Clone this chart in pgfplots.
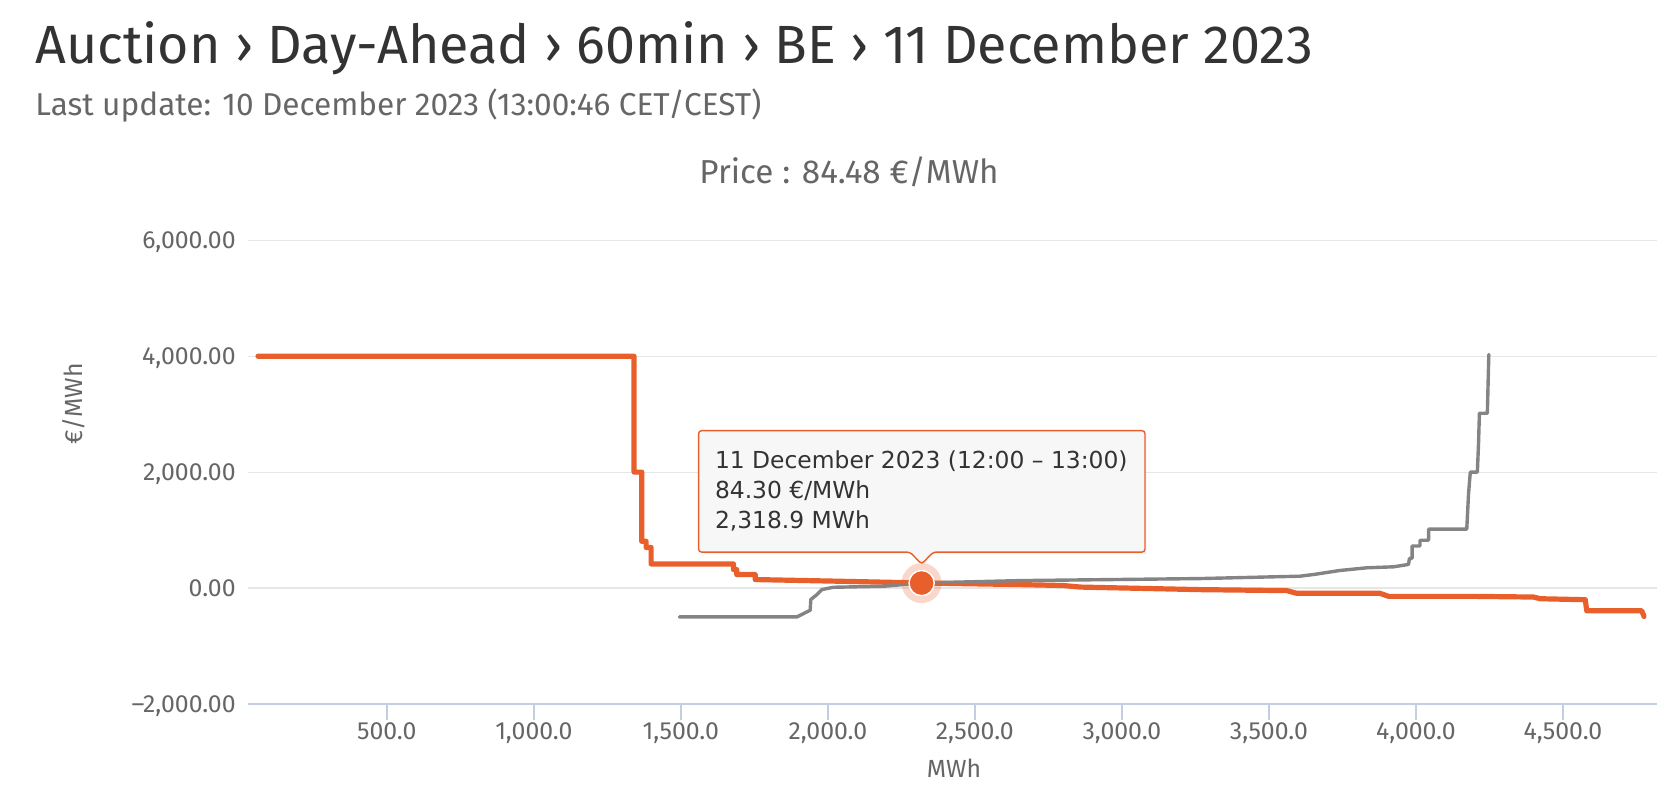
\documentclass[border=0pt]{standalone}
\usepackage{pgfplots}
\pgfplotsset{compat=1.18}
\usepackage{fontspec}
\setmainfont{Fira Sans}
\newfontfamily\tipfont{DejaVu Sans}
\usetikzlibrary{shadows}

\definecolor{demand}{HTML}{E95F2B}
\definecolor{supply}{HTML}{848484}
\definecolor{gridc}{HTML}{E6E6E6}
\definecolor{axisc}{HTML}{C4CEE3}
\definecolor{titlec}{HTML}{333333}
\definecolor{labelc}{HTML}{666666}
\definecolor{tipfill}{HTML}{F7F7F7}

\begin{document}
\begin{tikzpicture}
\path[use as bounding box] (0,0) rectangle (835pt,-403pt);

\node[anchor=base west, inner sep=0pt, text=titlec, font=\fontsize{26.9}{30}\selectfont]
  at (17.5pt,-32pt) {Auction › Day-Ahead › 60min › BE › 11 December 2023};
\node[anchor=base west, inner sep=0pt, text=labelc, font=\fontsize{15.8}{18}\selectfont]
  at (17.5pt,-58pt) {Last update: 10 December 2023 (13:00:46 CET/CEST)};
\node[anchor=base, inner sep=0pt, text=labelc, font=\fontsize{16.6}{19}\selectfont]
  at (424.5pt,-92pt) {Price : 84.48 €/MWh};

\begin{axis}[
  at={(124pt,-351.9pt)}, anchor=south west,
  width=704.5pt, height=231.7pt, scale only axis,
  xmin=28, xmax=4820, ymin=-2000, ymax=6000,
  axis lines*=left,
  x axis line style={draw=axisc, line width=1pt},
  y axis line style={draw=none},
  ymajorgrids, grid style={gridc, line width=0.6pt},
  ytick={-2000,0,2000,4000,6000},
  yticklabels={{–2,000.00},{0.00},{2,000.00},{4,000.00},{6,000.00}},
  ytick style={draw=none},
  xtick={500,1000,1500,2000,2500,3000,3500,4000,4500},
  xticklabels={{500.0},{1,000.0},{1,500.0},{2,000.0},{2,500.0},{3,000.0},{3,500.0},{4,000.0},{4,500.0}},
  xtick pos=bottom, xtick align=outside, major tick length=8pt,
  xtick style={draw=axisc, line width=1pt},
  yticklabel style={anchor=base east, inner sep=0pt, xshift=-6pt, yshift=-4.2pt},
  xticklabel style={anchor=base, inner sep=0pt, yshift=-10pt},
  ticklabel style={text=labelc, font=\fontsize{12.4}{14}\selectfont},
]
% demand curve
\addplot[demand, line width=2.6pt, line join=round, line cap=round] coordinates {
 (62,4000) (1341,4000) (1341,2000) (1367,2000) (1367,805) (1382,805) (1382,700)
 (1399,700) (1399,414) (1679,414) (1679,317) (1690,317) (1690,231) (1753,231)
 (1753,145) (2000,120) (2320,86) (2654,58) (2800,42) (2860,15) (3266,-29)
 (3561,-46) (3595,-93) (3878,-93) (3907,-145) (4196,-145) (4400,-157)
 (4423,-186) (4576,-203) (4581,-394) (4768,-394) (4776,-493)
};
% supply curve
\addplot[supply, line width=1.7pt, line join=round, line cap=round] coordinates {
 (1495,-500) (1895,-500) (1940,-384) (1942,-200) (1963,-114) (1980,-28)
 (2019,12) (2189,29) (2320,86) (2654,127) (3266,162) (3606,203) (3652,232)
 (3742,302) (3833,348) (3924,365) (3975,406) (3978,510) (3987,510) (3987,725)
 (4014,725) (4014,824) (4043,824) (4043,1015) (4173,1015) (4179,1624)
 (4185,2000) (4209,2000) (4213,2494) (4216,3016) (4243,3016) (4248,4030)
};
% hovered point
\addplot[demand, only marks, mark=*, mark size=10pt,
  mark options={fill=demand, fill opacity=0.25, draw opacity=0}]
  coordinates {(2318.9,84.30)};
\addplot[demand, only marks, mark=*, mark size=6.3pt,
  mark options={fill=demand, draw=white, line width=0.7pt}]
  coordinates {(2318.9,84.30)};
\coordinate (P) at (axis cs:2318.9,84.30);
\end{axis}

\node[rotate=90, text=labelc, font=\fontsize{12.4}{14}\selectfont] at (37pt,-202pt) {€/MWh};
\node[text=labelc, font=\fontsize{12.4}{14}\selectfont] at (477pt,-384pt) {MWh};

% tooltip
\begin{scope}[shift={(P)}]
\draw[demand, line width=0.7pt, fill=tipfill, rounded corners=1.5pt,
      drop shadow={opacity=0.12, shadow xshift=0.8pt, shadow yshift=-0.8pt}]
  (-111.5pt,15.5pt) -- (-111.5pt,76.2pt) -- (111.7pt,76.2pt) -- (111.7pt,15.5pt)
  -- (5.8pt,15.5pt) -- (0pt,9.5pt) -- (-5.8pt,15.5pt) -- cycle;
\begin{scope}[every node/.style={anchor=base west, inner sep=0pt, text=titlec, font=\tipfont\fontsize{11.7}{13}\selectfont}]
\node at (-103.5pt,57.2pt) {11 December 2023 (12:00 – 13:00)};
\node at (-103.5pt,42.2pt) {84.30 €/MWh};
\node at (-103.5pt,27.5pt) {2,318.9 MWh};
\end{scope}
\end{scope}
\end{tikzpicture}
\end{document}
